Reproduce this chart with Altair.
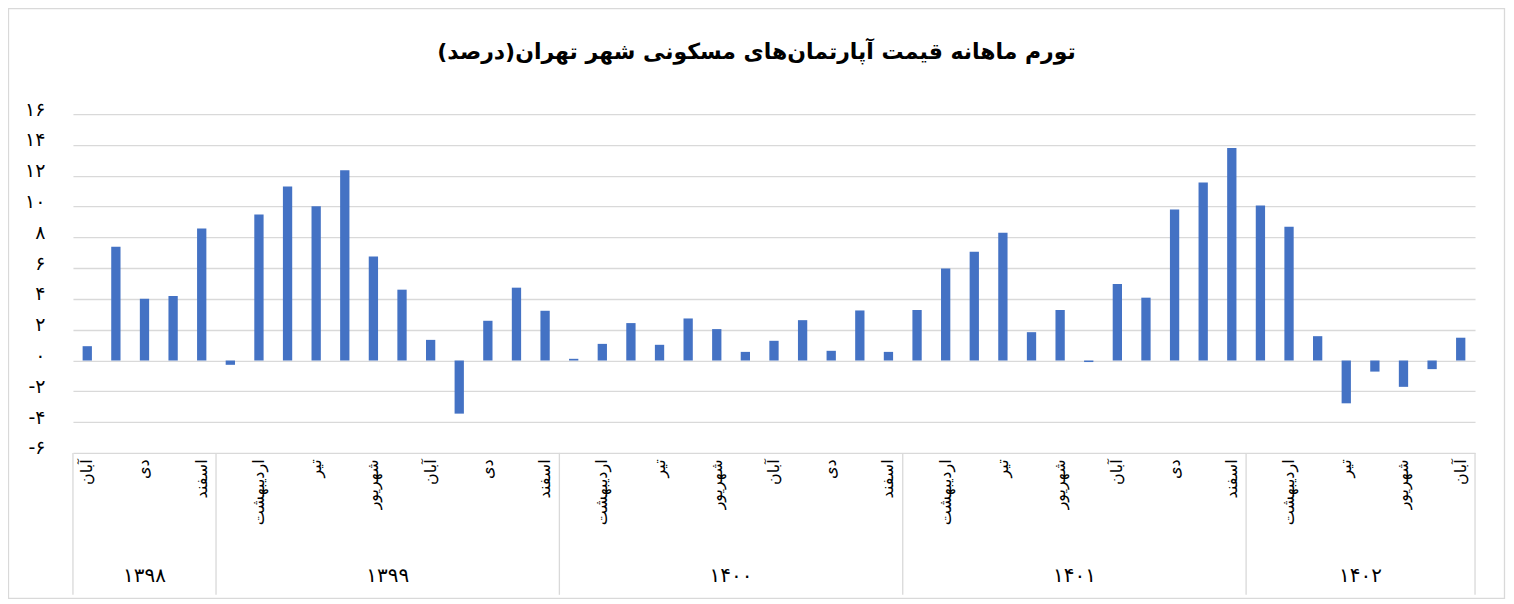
import altair as alt
import pandas as pd

# ---- data ----
title_text = "تورم ماهانه قیمت آپارتمان\u200cهای مسکونی شهر تهران(درصد)"

months_fa = ["فروردین", "اردیبهشت", "خرداد", "تیر", "مرداد", "شهریور",
             "مهر", "آبان", "آذر", "دی", "بهمن", "اسفند"]

# (year, first month index 0-based, number of months)
years = [1398, 1399, 1400, 1401, 1402]
year_start_month = [7, 0, 0, 0, 0]
year_count = [5, 12, 12, 12, 8]

values_1398 = [0.93, 7.38, 4.01, 4.19, 8.57]
values_1399 = [-0.28, 9.48, 11.30, 10.02, 12.36, 6.75, 4.60, 1.34, -3.45, 2.58, 4.73, 3.23]
values_1400 = [0.11, 1.08, 2.43, 1.02, 2.73, 2.04, 0.56, 1.28, 2.62, 0.63, 3.25, 0.56]
values_1401 = [3.28, 5.97, 7.07, 8.29, 1.84, 3.28, -0.10, 4.97, 4.08, 9.80, 11.56, 13.80]
values_1402 = [10.07, 8.68, 1.58, -2.78, -0.72, -1.71, -0.56, 1.48]
all_values = [values_1398, values_1399, values_1400, values_1401, values_1402]

y_ticks = list(range(-6, 17, 2))

FA_DIGITS = "۰۱۲۳۴۵۶۷۸۹"


def to_fa(s):
    return "".join(FA_DIGITS[int(c)] if c.isdigit() else c for c in str(s))


rows = []
idx = 0
for y, m0, n, vals in zip(years, year_start_month, year_count, all_values):
    for k in range(n):
        rows.append({"idx": idx, "month": months_fa[m0 + k], "year": y, "value": vals[k]})
        idx += 1
df = pd.DataFrame(rows)
N = len(df)

# shown labels: every other month (as the source chart does)
shown = [r["month"] if i % 2 == 0 else "" for i, r in enumerate(rows)]
label_expr = "[" + ",".join("'" + s + "'" for s in shown) + "][datum.value]"

# year groups
bounds = [0]
for n in year_count:
    bounds.append(bounds[-1] + n)
years_df = pd.DataFrame({
    "mid": [(bounds[i] + bounds[i + 1]) / 2 for i in range(len(years))],
    "label": [to_fa(y) for y in years],
})
sep_df = pd.DataFrame({"b": bounds})

# persian digits for y labels
yexpr = "'' + datum.value"
for d in range(10):
    yexpr = f"replace({yexpr}, regexp('{d}', 'g'), '{FA_DIGITS[d]}')"

W, H = 1403, 339
FONT = "DejaVu Sans"
GRID = "#d9d9d9"

bars = alt.Chart(df).mark_bar(color="#4472C4").encode(
    x=alt.X("idx:O",
            scale=alt.Scale(paddingInner=0.675, paddingOuter=0.3375),
            axis=alt.Axis(title=None, labelExpr=label_expr, labelAngle=270,
                          labelFont=FONT, labelFontSize=16, labelColor="#000000",
                          labelPadding=6, ticks=False, tickSize=0, domain=False,
                          grid=False, labelOverlap=False)),
    y=alt.Y("value:Q",
            scale=alt.Scale(domain=[-6, 16], nice=False, zero=False),
            axis=alt.Axis(title=None, values=y_ticks, labelExpr=yexpr,
                          labelFont=FONT, labelFontSize=19, labelColor="#000000",
                          labelPadding=28, labelOffset=-5, ticks=False, tickSize=0,
                          domain=False, grid=True, gridColor=GRID, gridWidth=1.3)),
)

xq = alt.Scale(domain=[0, N], nice=False, zero=False)

year_text = alt.Chart(years_df).mark_text(
    font=FONT, fontSize=20, color="#000000", baseline="middle"
).encode(
    x=alt.X("mid:Q", scale=xq, axis=None),
    y=alt.value(H + 123),
    text="label:N",
)

seps = alt.Chart(sep_df).mark_rule(color=GRID, strokeWidth=1.3).encode(
    x=alt.X("b:Q", scale=xq, axis=None),
    y=alt.value(H),
    y2=alt.value(H + 142),
)

one = pd.DataFrame({"t": [title_text]})
title = alt.Chart(one).mark_text(
    font=FONT, fontSize=22, fontWeight="bold", color="#000000",
    align="center", baseline="middle"
).encode(x=alt.value(684), y=alt.value(-62), text="t:N")

frame = alt.Chart(one).mark_rect(fillOpacity=0, stroke=GRID, strokeWidth=1.3).encode(
    x=alt.value(-64.5), x2=alt.value(W + 29.5),
    y=alt.value(-105.5), y2=alt.value(H + 145.5),
)

chart = alt.layer(bars, seps, year_text, title, frame).resolve_scale(
    x="independent"
).properties(
    width=W, height=H,
    padding={"left": 65, "top": 106, "right": 31, "bottom": 147},
    autosize=alt.AutoSizeParams(type="none"),
    background="white",
).configure_view(stroke="transparent")

chart.save("out.html", embed_options={"renderer": "svg", "actions": False})
